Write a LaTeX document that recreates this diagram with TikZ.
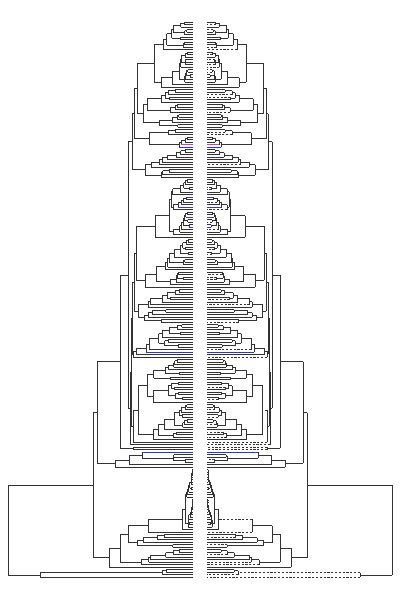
\documentclass[tikz,border=0pt]{standalone}
\usepackage{tikz}
\definecolor{grisrama}{HTML}{333333}
\definecolor{azul}{HTML}{3030E0}
\definecolor{rosa}{HTML}{C04A8A}
\definecolor{violeta}{HTML}{4A3A80}
\tikzset{
  rama/.style={draw=grisrama, line width=0.6pt},
  ramad/.style={rama, dash pattern=on 2.2pt off 1.6pt},
}
% generador de azar propio (Wichmann-Hill, primera parte)
\newcount\semilla \semilla=4711
\newcommand\azar{%
  \global\semilla=\numexpr\semilla*171\relax
  \global\semilla=\numexpr\semilla-(\semilla/30269)*30269\relax
  \ifnum\semilla<1 \global\advance\semilla by 30269 \fi
  \edef\rk{\number\numexpr\semilla*1000/30269\relax}}
\newcommand\colhoja[2]{\expandafter\def\csname lc@#1\endcsname{#2}}
% tramo horizontal: prof. padre, prof. hijo, y, hoja (o -1)
\newcommand\horiz[5][]{%
  \def\colh{grisrama}\def\estd{rama}%
  \ifnum#5>-1
    \ifcsname lc@\number#5\endcsname \edef\colh{\csname lc@\number#5\endcsname}%
    \else \azar\ifnum\rk<300 \def\estd{ramad}\fi\fi
  \fi
  \if\relax\detokenize{#1}\relax\else\def\estd{#1}\fi
  \draw[rama, draw=\colh] (193-#2,#4) -- (193-#3,#4);
  \draw[\estd, draw=\colh] (207+#2,#4) -- (207+#3,#4);}
% clado al azar: hojas #1..#2, raiz a profundidad #3
\newcommand\arbol[3]{%
  \begingroup
  \edef\arA{\number\numexpr#1\relax}\edef\arB{\number\numexpr#2\relax}\edef\arD{#3}%
  \ifnum\arA=\arB
    \pgfmathsetmacro\arY{22+2.5*\arA}\xdef\ymed{\arY}%
  \else
    \edef\arH{\number\numexpr(\arB-\arA)/2\relax}%
    \azar
    \ifnum\rk<450 \def\arK{1}\else\azar\edef\arK{\number\numexpr1+(\rk*\arH-500)/1001\relax}\fi
    \edef\arJa{\number\numexpr\arB-\arK\relax}\edef\arJb{\number\numexpr\arJa+1\relax}%
    \ifnum\arA=\arJa \def\arDa{0}\edef\arHa{\arA}\else
      \azar\pgfmathsetmacro\arDa{\arD*(0.62+0.35*\rk/1000)}\def\arHa{-1}\fi
    \ifnum\arJb=\arB \def\arDb{0}\edef\arHb{\arB}\else
      \azar\pgfmathsetmacro\arDb{\arD*(0.35+0.55*\rk/1000)}\def\arHb{-1}\fi
    \arbol{\arA}{\arJa}{\arDa}\let\arYa\ymed
    \arbol{\arJb}{\arB}{\arDb}\let\arYb\ymed
    \draw[rama] (193-\arD,\arYa) -- (193-\arD,\arYb);
    \draw[rama] (207+\arD,\arYa) -- (207+\arD,\arYb);
    \horiz{\arD}{\arDa}{\arYa}{\arHa}\horiz{\arD}{\arDb}{\arYb}{\arHb}%
    \pgfmathsetmacro\arY{(\arYa+\arYb)/2}\xdef\ymed{\arY}%
  \fi
  \endgroup}
\newcommand\clado[4]{\arbol{#2}{#3}{#4}%
  \expandafter\xdef\csname cm@#1\endcsname{\ymed}%
  \expandafter\xdef\csname cd@#1\endcsname{#4}%
  \expandafter\xdef\csname ci@#1\endcsname{-1}}
\newcommand\hoja[3][]{\pgfmathsetmacro\arY{22+2.5*#3}%
  \expandafter\xdef\csname cm@#2\endcsname{\arY}%
  \expandafter\xdef\csname cd@#2\endcsname{0}%
  \expandafter\xdef\csname ci@#2\endcsname{#3}%
  \if\relax\detokenize{#1}\relax\else\expandafter\xdef\csname lc@#3\endcsname{#1}\fi}
\newcommand\unir[5][]{%
  \edef\uYa{\csname cm@#3\endcsname}\edef\uYb{\csname cm@#4\endcsname}%
  \edef\uDa{\csname cd@#3\endcsname}\edef\uDb{\csname cd@#4\endcsname}%
  \edef\uIa{\csname ci@#3\endcsname}\edef\uIb{\csname ci@#4\endcsname}%
  \draw[rama] (193-#5,\uYa) -- (193-#5,\uYb);
  \draw[rama] (207+#5,\uYa) -- (207+#5,\uYb);
  \horiz[#1]{#5}{\uDa}{\uYa}{\uIa}\horiz[#1]{#5}{\uDb}{\uYb}{\uIb}%
  \pgfmathsetmacro\arY{(\uYa+\uYb)/2}%
  \expandafter\xdef\csname cm@#2\endcsname{\arY}%
  \expandafter\xdef\csname cd@#2\endcsname{#5}%
  \expandafter\xdef\csname ci@#2\endcsname{-1}}
\colhoja{70}{violeta}\colhoja{74}{violeta}\colhoja{78}{violeta}\colhoja{82}{azul}

\begin{document}
\begin{tikzpicture}[x=1pt, y=-1pt]
  \fill[white] (0,0) rectangle (400,600);
  \useasboundingbox (0,0) rectangle (400,600);
  % bloque superior
  \clado{bA}{0}{11}{30}
  \clado{bB}{12}{26}{32}
  \unir{b1}{bA}{bB}{39}
  \clado{b3}{27}{42}{50}
  \unir{t13}{b1}{b3}{56}
  \clado{b4a}{43}{45}{25}
  \clado{b4c}{46}{48}{8}
  \hoja[rosa]{h49}{49}
  \unir{b4d}{b4c}{h49}{12}
  \hoja[azul]{h50}{50}
  \unir{b4b}{b4d}{h50}{14}
  \unir{b4}{b4a}{b4b}{44}
  \unir{t14}{t13}{b4}{59}
  \clado{b5}{51}{62}{48}
  \unir{arriba}{t14}{b5}{61}
  % bloque central
  \clado{b6}{63}{86}{38}
  \clado{b7}{87}{106}{48}
  \unir{l1}{b6}{b7}{57}
  \clado{b8}{107}{120}{55}
  \unir{l2}{l1}{b8}{59}
  \clado{b9a}{121}{131}{44}
  \hoja[azul]{h132}{132}
  \unir{b9b}{b9a}{h132}{47}
  \hoja{h133}{133}
  \unir{b9}{b9b}{h133}{57}
  \hoja{h134}{134}
  \unir[ramad]{b9x}{b9}{h134}{60}
  \unir{l3}{l2}{b9x}{61}
  \clado{b10}{135}{167}{55}
  \hoja{h168}{168}
  \unir[ramad]{b10x}{b10}{h168}{60}
  \unir{l4}{l3}{b10x}{62}
  \hoja{h169}{169}
  \unir[ramad]{l5}{l4}{h169}{63}
  \unir{n65}{arriba}{l5}{65}
  \hoja{h170}{170}\hoja{h171}{171}
  \unir[ramad]{parh}{h170}{h171}{60}
  \unir{n73}{n65}{parh}{73}
  \hoja[azul]{h172}{172}
  \clado{b11s}{173}{176}{20}
  \unir{b11a}{h172}{b11s}{51}
  \hoja{h177}{177}
  \unir{b11b}{b11a}{h177}{64}
  \hoja{h178}{178}
  \unir{b11}{b11b}{h178}{78}
  \unir{n96}{n73}{b11}{96}
  % bloque inferior
  \clado{mata}{179}{203}{11}
  \hoja{h204}{204}
  \unir[ramad]{matax}{mata}{h204}{45}
  \clado{b12c}{205}{210}{56}
  \unir{b12d}{matax}{b12c}{65}
  \clado{b12e}{211}{217}{52}
  \unir{b12f}{b12d}{b12e}{73}
  \hoja{h218}{218}
  \unir{b12}{b12f}{h218}{84}
  \unir{r2}{n96}{b12}{100}
  \clado{r1a}{219}{221}{31}
  \hoja{h222}{222}
  \unir[ramad]{r1}{r1a}{h222}{153}
  \unir{raiz}{r2}{r1}{185}
\end{tikzpicture}
\end{document}
